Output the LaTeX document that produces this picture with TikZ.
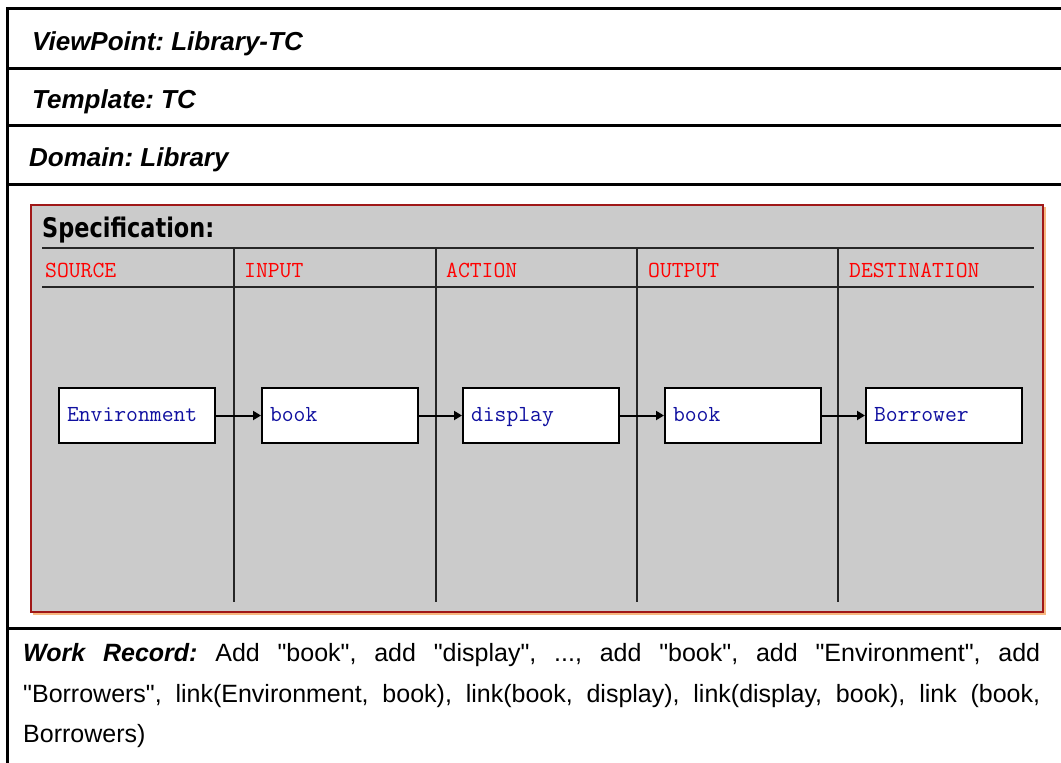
\documentclass[tikz,border=0pt]{standalone}
\usepackage{fontspec}
\setmainfont{Liberation Sans}[Ligatures=TeXOff]
\newfontfamily\specfont[FakeStretch=0.83]{DejaVu Sans}
\usetikzlibrary{arrows.meta}
\definecolor{panelgray}{HTML}{CBCBCB}
\definecolor{panelred}{HTML}{A01818}
\definecolor{panelshade}{HTML}{F8B880}
\definecolor{hdrred}{HTML}{FF0000}
\definecolor{boxblue}{HTML}{1010A0}
\frenchspacing
\begin{document}
\begin{tikzpicture}[x=1pt,y=-1pt,
  frameline/.style={line width=3pt, black},
  titletext/.style={anchor=base west, inner sep=0pt, font=\fontsize{26}{30}\selectfont\bfseries\itshape},
  colhead/.style={anchor=base west, inner sep=0pt, text=hdrred, font=\fontsize{23}{28}\ttfamily},
  gridline/.style={line width=2pt, black!85},
  entity/.style={draw=black, line width=2pt, fill=white, minimum width=156pt, minimum height=55pt,
    text width=140pt, align=left, inner xsep=8pt, inner ysep=0pt, anchor=north west,
    text height=15pt, text depth=4pt,
    text=boxblue, font=\fontsize{23}{28}\ttfamily},
  link/.style={line width=2pt, -{Triangle[length=8pt,width=9pt]}},
  recordtext/.style={anchor=base west, inner sep=0pt, font=\fontsize{25}{28}\selectfont},
]
\useasboundingbox (0,0) rectangle (1061,763);
\fill[white] (0,0) rectangle (1061,763);

% outer frame
\draw[frameline] (7.3,7) -- (7.3,763);
\draw[frameline] (6,8.5) -- (1061,8.5);
\draw[frameline] (7.3,68) -- (1061,68);
\draw[frameline] (7.3,125.5) -- (1061,125.5);
\draw[frameline] (7.3,184) -- (1061,184);
\draw[frameline] (7.3,628) -- (1061,628);

\node[titletext] (vp) at (32,50) {ViewPoint: Library-TC};
\node[titletext] (tpl) at (32,108) {Template: TC};
\node[titletext] (dom) at (29,166) {Domain: Library};

% specification panel
\fill[panelshade] (33,207) rectangle (1046,615);
\draw[fill=panelgray, draw=panelred, line width=2pt] (31,205) rectangle (1043,612);
\node[anchor=base west, inner sep=0pt, font=\fontsize{27}{30}\specfont\bfseries] (spec) at (42,237) {Specification:};

\draw[gridline] (42,248) -- (1034,248);
\draw[gridline] (42,287) -- (1034,287);
\foreach \x in {234,436,637,838} \draw[gridline] (\x,248) -- (\x,602);

\node[colhead] (h1) at (45,277) {SOURCE};
\node[colhead] (h2) at (244,277) {INPUT};
\node[colhead] (h3) at (446,277) {ACTION};
\node[colhead] (h4) at (648,277) {OUTPUT};
\node[colhead] (h5) at (849,277) {DESTINATION};

\node[entity] (env) at (58,387) {Environment};
\node[entity] (bk1) at (261,387) {book};
\node[entity] (disp) at (462,387) {display};
\node[entity] (bk2) at (664,387) {book};
\node[entity] (bor) at (865,387) {Borrower};

\draw[link] (env) -- (bk1);
\draw[link] (bk1) -- (disp);
\draw[link] (disp) -- (bk2);
\draw[link] (bk2) -- (bor);

% work record
\node[recordtext] (wr1) at (23,661) {\makebox[1017pt][s]{\textbf{\textit{Work Record:}} Add "book", add "display", ..., add "book", add "Environment", add}};
\node[recordtext] (wr2) at (23,702) {\makebox[1017pt][s]{"Borrowers", link(Environment, book), link(book, display), link(display, book), link (book,}};
\node[recordtext] (wr3) at (23,742) {Borrowers)};
\end{tikzpicture}
\end{document}
